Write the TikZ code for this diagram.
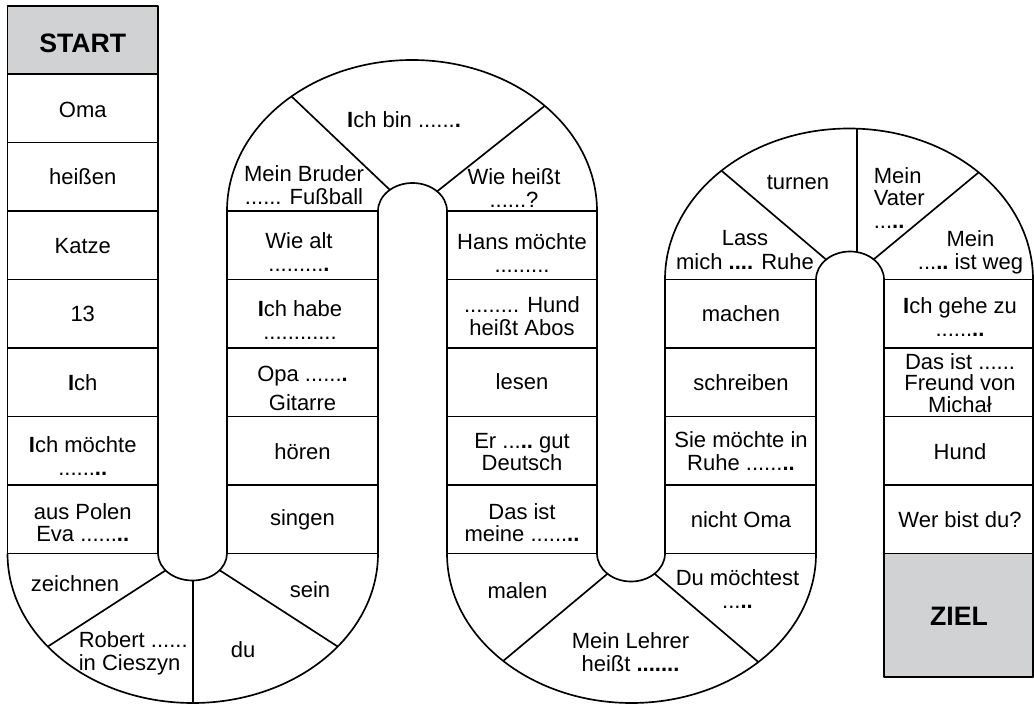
\documentclass[tikz,border=0pt]{standalone}
\usepackage{fontspec}
\setmainfont{Liberation Sans}
\definecolor{boardgray}{RGB}{209,210,212}
\newcommand\cardfont{\fontsize{16.5pt}{17pt}\selectfont}
\newcommand\goalfont{\fontsize{20pt}{22pt}\selectfont\bfseries}
\newcommand\bI{\textbf{I}}
\newcommand\bd{\textbf{.}}
% one radial divider of a bend: centre, inner radii, outer radii, angle
\newcommand\boardspoke[7]{%
  \draw ({#1+#3*cos(#7)},{#2+#4*sin(#7)}) -- ({#1+#5*cos(#7)},{#2+#6*sin(#7)});}

\begin{document}
\begin{tikzpicture}[x=0.75pt,y=-0.75pt,line width=1.25pt,line join=round,
  card/.style={font=\cardfont,align=center,inner sep=0pt},
  wide/.style={font=\fontsize{16.5pt}{21.5pt}\selectfont},
  loose/.style={font=\fontsize{16.5pt}{18.5pt}\selectfont},
  snug/.style={font=\fontsize{16.5pt}{16pt}\selectfont},
  goal/.style={font=\goalfont,inner sep=0pt},
  grayfield/.style={draw,fill=boardgray}]

\useasboundingbox (0,0) rectangle (1034,705);

% ---- straight runs of fields ----
\draw[grayfield] (7.5,6) rectangle (158,74);
\foreach \t/\b in {74/142.5,142.5/211,211/279.5,279.5/348,348/416.5,416.5/485,485/553.5}
  \draw (7.5,\t) rectangle (158,\b);
\foreach \t/\b in {211/279.5,279.5/348,348/416.5,416.5/485,485/553.5}{
  \draw (227,\t) rectangle (378,\b);
  \draw (447,\t) rectangle (597,\b);}
\foreach \t/\b in {279.5/348,348/416.5,416.5/485,485/553.5}{
  \draw (665,\t) rectangle (816,\b);
  \draw (884,\t) rectangle (1033,\b);}
\draw[grayfield] (884,553.5) rectangle (1033,677);

% ---- bends ----
% lower bend 1
\draw (7.5,553.5) arc[start angle=180,end angle=0,x radius=185.25,y radius=149.5];
\draw (158,553.5) arc[start angle=180,end angle=0,x radius=34.5,y radius=27];
\boardspoke{192.75}{553.5}{34.5}{27}{185.25}{149.5}{141.5}
\boardspoke{192.75}{553.5}{34.5}{27}{185.25}{149.5}{90}
\boardspoke{192.75}{553.5}{34.5}{27}{185.25}{149.5}{38.5}
% upper bend 2
\draw (227,211) arc[start angle=180,end angle=360,x radius=185,y radius=151];
\draw (378,211) arc[start angle=180,end angle=360,x radius=34.5,y radius=28];
\boardspoke{412.25}{211}{34.5}{28}{185}{151}{229.3}
\boardspoke{412.25}{211}{34.5}{28}{185}{151}{315.8}
% lower bend 3
\draw (447,553.5) arc[start angle=180,end angle=0,x radius=184.5,y radius=149.5];
\draw (597,553.5) arc[start angle=180,end angle=0,x radius=34,y radius=28];
\boardspoke{631.25}{553.5}{34}{28}{184.5}{149.5}{134}
\boardspoke{631.25}{553.5}{34}{28}{184.5}{149.5}{46.5}
% upper bend 4
\draw (665,279.5) arc[start angle=180,end angle=360,x radius=184,y radius=151];
\draw (816,279.5) arc[start angle=180,end angle=360,x radius=34,y radius=28];
\boardspoke{849.5}{279.5}{34}{28}{184}{151}{226}
\boardspoke{849.5}{279.5}{34}{28}{184}{151}{314.7}
\draw (857.3,252.2) -- (857.3,128.7);

% ---- column 1 ----
\node[goal] (start) at (82.75,43) {START};
\node[card] (oma) at (82.75,109.5) {Oma};
\node[card] (heissen) at (82.75,176.5) {heißen};
\node[card] (katze) at (82.75,246) {Katze};
\node[card] (dreizehn) at (82.75,314) {13};
\node[card] (ich) at (82.75,383) {\bI ch};
\node[card] (moechte) at (82.75,456) {\bI ch möchte\\......\bd\bd};
\node[card] (polen) at (82.75,522.5) {aus Polen\\Eva ......\bd\bd};

% ---- bend 1 ----
\node[card] (zeichnen) at (75,584) {zeichnen};
\node[card,align=left,anchor=west] (robert) at (78,653) {Robert ......\\in Cieszyn};
\node[card] (du) at (243,650) {du};
\node[card] (sein) at (310,590) {sein};

% ---- column 2 ----
\node[card] (singen) at (302.5,520) {singen};
\node[card] (hoeren) at (302.5,451.5) {hören};
\node[card,wide] (gitarre) at (302.5,388.5) {Opa ......\bd\\Gitarre};
\node[card] (habe) at (300,320) {\bI ch habe\\............};
\node[card] (alt) at (299,252) {Wie alt\\.........\bd};

% ---- bend 2 ----
\node[card] (bruder) at (304,185) {Mein Bruder\\...... Fußball};
\node[card] (bin) at (404,120) {\bI ch bin ......\bd};
\node[card] (heisst) at (514,188) {Wie heißt\\......?};

% ---- column 3 ----
\node[card] (hans) at (522,253) {Hans möchte\\.........};
\node[card] (abos) at (522,316) {......... Hund\\heißt Abos};
\node[card] (lesen) at (522,382) {lesen};
\node[card] (deutsch) at (522,452) {Er ...\bd\bd\ gut\\Deutsch};
\node[card] (meine) at (522,522.5) {Das ist\\meine ......\bd\bd};

% ---- bend 3 ----
\node[card] (malen) at (517.5,590.5) {malen};
\node[card] (lehrer) at (630.5,652) {Mein Lehrer\\heißt \textbf{.......}};
\node[card] (moechtest) at (737.5,589) {Du möchtest\\...\bd\bd};

% ---- column 4 ----
\node[card] (nichtoma) at (741,519.5) {nicht Oma};
\node[card] (ruhe) at (741,451) {Sie möchte in\\Ruhe ......\bd\bd};
\node[card] (schreiben) at (741,383) {schreiben};
\node[card] (machen) at (741,314) {machen};

% ---- bend 4 ----
\node[card,loose] (lass) at (745,250) {Lass\\mich \textbf{....} Ruhe};
\node[card] (turnen) at (798,182) {turnen};
\node[card,align=left,anchor=west] (vater) at (873,198) {Mein\\Vater\\...\bd\bd};
\node[card] (weg) at (970.5,252) {Mein\\...\bd\bd\ ist weg};

% ---- column 5 ----
\node[card] (gehe) at (960,317) {\bI ch gehe zu\\......\bd\bd};
\node[card,snug] (freund) at (960,383) {Das ist ......\\Freund von\\Michał};
\node[card] (hund) at (960,451.5) {Hund};
\node[card] (werbist) at (960,520) {Wer bist du?};
\node[goal] (ziel) at (959,616) {ZIEL};
\end{tikzpicture}
\end{document}
